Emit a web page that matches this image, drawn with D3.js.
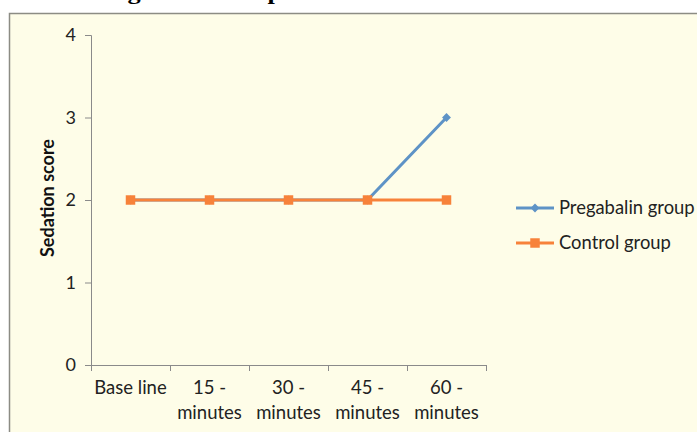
<!DOCTYPE html>
<html><head><meta charset="utf-8">
<script src="https://cdn.jsdelivr.net/npm/d3@7"></script>
<style>html,body{margin:0;padding:0;background:#fff;}svg{display:block;}</style>
</head><body>
<script>
const categories = ["Base line", "15 -\nminutes", "30 -\nminutes", "45 -\nminutes", "60 -\nminutes"];
const pregabalin = [2, 2, 2, 2, 3];
const control = [2, 2, 2, 2, 2];
const yTicks = [0, 1, 2, 3, 4];
const seriesNames = ["Pregabalin group", "Control group"];
const colors = ["#5E93C6", "#F7823A"];
const titleText = "Figure 3: Comparison of sedation scores";

const W = 697, H = 432;
const svg = d3.select("body").append("svg").attr("width", W).attr("height", H);

// title (clipped at the top, as in the reference)
svg.append("text").attr("x", 104).attr("y", -1)
  .attr("font-family", "Liberation Serif").attr("font-weight", "bold").attr("font-size", 22)
  .attr("textLength", 452).attr("lengthAdjust", "spacingAndGlyphs")
  .attr("fill", "#000").text(titleText);

// chart area
svg.append("rect").attr("x", 9.5).attr("y", 13.5).attr("width", 700).attr("height", 430)
  .attr("fill", "#FEFDE8").attr("stroke", "#8C8C84").attr("stroke-width", 1.5);

const x0 = 91, x1 = 486, yTop = 35, yBot = 365;
const x = d3.scaleBand().domain(d3.range(categories.length)).range([x0, x1]);
const y = d3.scaleLinear().domain([0, 4]).range([yBot, yTop]);

const font = "Lato, 'Open Sans', sans-serif";
// y axis
const yAxis = svg.append("g").attr("transform", `translate(${x0},0)`)
  .call(d3.axisLeft(y).tickValues(yTicks).tickSize(6).tickPadding(9).tickFormat(d3.format("d")));
yAxis.select(".domain").attr("stroke", "#8A8A8A").attr("d", `M-6,${yTop}.5H0.5V${yBot}.5`);
yAxis.selectAll(".tick line").attr("stroke", "#8A8A8A");
yAxis.selectAll(".tick text").attr("font-family", font).attr("font-size", 18).attr("fill", "#222");

// x axis
const xAxis = svg.append("g").attr("transform", `translate(0,${yBot})`)
  .call(d3.axisBottom(x).tickSize(0).tickFormat(""));
xAxis.select(".domain").attr("stroke", "#8A8A8A").attr("d", `M${x0},0.5H${x1}`);
const bounds = d3.range(categories.length + 1).map(i => x0 + i * x.step());
xAxis.selectAll(".bt").data(bounds).enter().append("line")
  .attr("x1", d => Math.round(d) + 0.5).attr("x2", d => Math.round(d) + 0.5)
  .attr("y1", 0).attr("y2", 6).attr("stroke", "#8A8A8A");
categories.forEach((c, i) => {
  const lines = c.split("\n");
  const t = svg.append("text").attr("text-anchor", "middle")
    .attr("font-family", font).attr("font-size", 18.5).attr("fill", "#222");
  lines.forEach((l, j) => {
    t.append("tspan").attr("x", x(i) + x.bandwidth() / 2).attr("y", 394 + j * 25).text(l);
  });
});

// y axis title
svg.append("text").attr("transform", "translate(54,198) rotate(-90)")
  .attr("text-anchor", "middle").attr("font-family", font).attr("font-weight", "bold")
  .attr("font-size", 18).attr("fill", "#111").text("Sedation score");

const cx = i => x(i) + x.bandwidth() / 2;
const line = d3.line().x((d, i) => cx(i)).y(d => y(d));
const diamond = d3.symbol().type(d3.symbolDiamond2).size(50);
const square = d3.symbol().type(d3.symbolSquare).size(90);

// Pregabalin
svg.append("path").datum(pregabalin).attr("d", line).attr("fill", "none")
  .attr("stroke", colors[0]).attr("stroke-width", 3);
svg.selectAll(".pd").data(pregabalin).enter().append("path")
  .attr("d", diamond).attr("transform", (d, i) => `translate(${cx(i)},${y(d)})`).attr("fill", colors[0]);
// Control
svg.append("path").datum(control).attr("d", line).attr("fill", "none")
  .attr("stroke", colors[1]).attr("stroke-width", 3);
svg.selectAll(".cs").data(control).enter().append("path")
  .attr("d", square).attr("transform", (d, i) => `translate(${cx(i)},${y(d)})`).attr("fill", colors[1]);

// legend
const leg = [[208, diamond], [243, square]];
seriesNames.forEach((n, i) => {
  const ly = leg[i][0];
  svg.append("line").attr("x1", 516).attr("x2", 554).attr("y1", ly).attr("y2", ly)
    .attr("stroke", colors[i]).attr("stroke-width", 3);
  svg.append("path").attr("d", leg[i][1]).attr("transform", `translate(535,${ly})`).attr("fill", colors[i]);
  svg.append("text").attr("x", 559).attr("y", ly + 6).attr("font-family", font)
    .attr("font-size", 18.4).attr("fill", "#222").text(n);
});
</script>
</body></html>
